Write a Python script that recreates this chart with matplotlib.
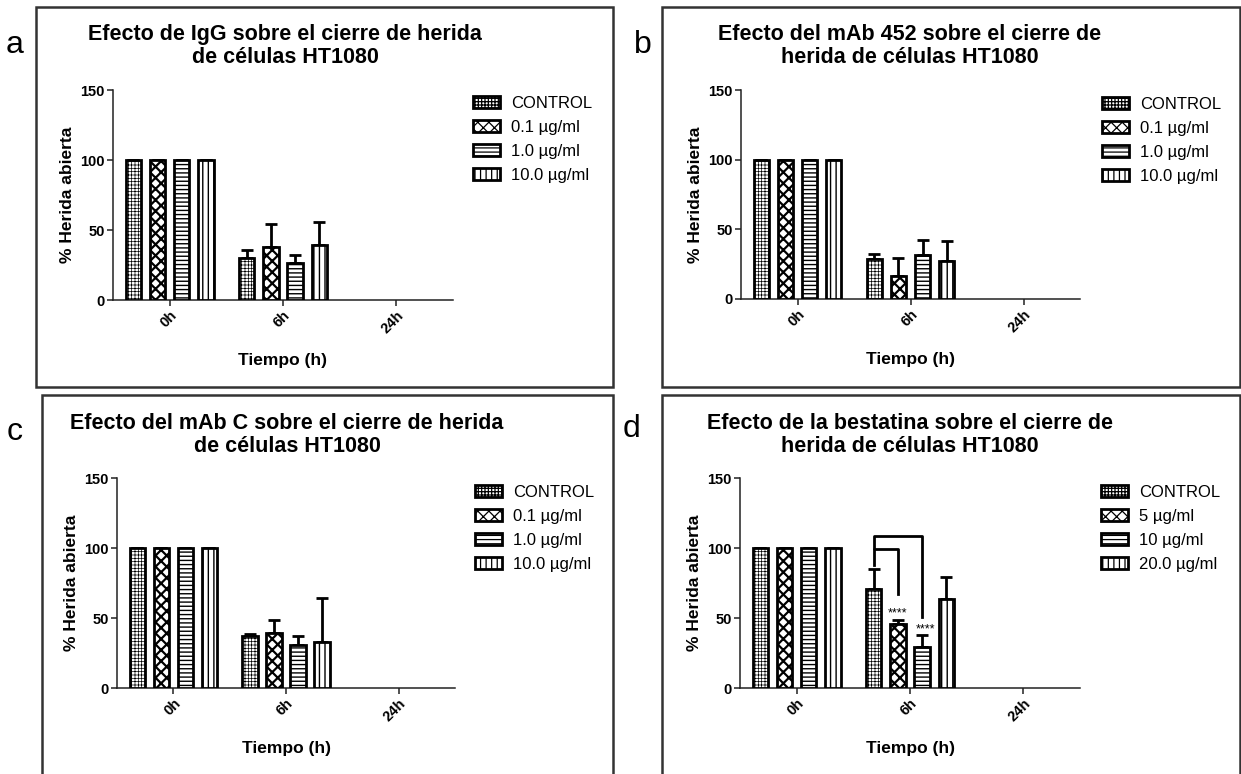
import numpy as np
import matplotlib
matplotlib.use("Agg")
import matplotlib.pyplot as plt
from matplotlib.patches import Rectangle

plt.rcParams['font.family'] = ['Liberation Sans', 'DejaVu Sans']
plt.rcParams['hatch.linewidth'] = 0.9

W, H = 1241, 774

# ---- data ----
times = ['0h', '6h', '24h']

titles = [
    'Efecto de IgG sobre el cierre de herida\nde células HT1080',
    'Efecto del mAb 452 sobre el cierre de\nherida de células HT1080',
    'Efecto del mAb C sobre el cierre de herida\nde células HT1080',
    'Efecto de la bestatina sobre el cierre de\nherida de células HT1080',
]
panel_letters = ['a', 'b', 'c', 'd']

labels_mab = ['CONTROL', '0.1 µg/ml', '1.0 µg/ml', '10.0 µg/ml']
labels_bestatin = ['CONTROL', '5 µg/ml', '10 µg/ml', '20.0 µg/ml']

# mean % open wound per series, at 0h / 6h / 24h (no bars at 24h)
igg_mean = [[100, 29.9, np.nan], [100, 38.2, np.nan], [100, 26.3, np.nan], [100, 39.4, np.nan]]
igg_err = [[0, 5.9, np.nan], [0, 16.3, np.nan], [0, 6.2, np.nan], [0, 16.5, np.nan]]

mab452_mean = [[100, 28.7, np.nan], [100, 16.2, np.nan], [100, 31.8, np.nan], [100, 27.0, np.nan]]
mab452_err = [[0, 3.8, np.nan], [0, 13.2, np.nan], [0, 10.2, np.nan], [0, 14.3, np.nan]]

mabc_mean = [[100, 37.3, np.nan], [100, 39.2, np.nan], [100, 30.6, np.nan], [100, 33.2, np.nan]]
mabc_err = [[0, 1.6, np.nan], [0, 9.2, np.nan], [0, 6.9, np.nan], [0, 30.9, np.nan]]

bestatin_mean = [[100, 70.7, np.nan], [100, 45.6, np.nan], [100, 29.4, np.nan], [100, 63.8, np.nan]]
bestatin_err = [[0, 14.0, np.nan], [0, 3.1, np.nan], [0, 8.6, np.nan], [0, 15.5, np.nan]]

# significance vs CONTROL at 6h (panel d)
sig_series = [1, 2]
sig_top = [99, 108.5]
sig_left_bottom = [88, 100]
sig_right_bottom = [67, 51]
sig_text = ['****', '****']
sig_text_y = [53.5, 41.5]

# ---- layout (pixels) ----
axes_px = [(113, 453, 90, 300), (741, 1080, 90, 299), (117, 455, 478, 688), (740, 1080, 478, 688)]
boxes_px = [(36, 613, 7, 387), (662, 1240, 7, 387), (42, 613, 395, 790), (662, 1240, 395, 790)]
legend_px = [(473, 96), (1102, 97), (475, 485), (1101, 485)]
title_px = [(285, 46), (910, 46), (287, 435), (910, 435)]
letter_px = [(15, 53), (643, 53), (15, 440), (632, 437)]

hatches = ['+++++', 'xxx', '----', '|||']
hatch_lw = [0.5, 1.6, 1.0, 1.0]
step = 0.2135
width = 0.135


def px_rect(l, r, t, b):
    return [l / W, 1 - b / H, (r - l) / W, (b - t) / H]


def draw_panel(fig, k, labels, means, errs):
    ax = fig.add_axes(px_rect(*axes_px[k]))
    x = np.arange(len(times))
    for i in range(4):
        xi = x + (i - 1.5) * step
        m = np.array(means[i], dtype=float)
        e = np.array(errs[i], dtype=float)
        b = ax.bar(xi, m, width, color='white', edgecolor='black', linewidth=2.0,
                   hatch=hatches[i], label=labels[i], zorder=3)
        for p in b.patches:
            if hasattr(p, 'set_hatch_linewidth'):
                p.set_hatch_linewidth(hatch_lw[i])
        ax.errorbar(xi, m, yerr=[np.zeros_like(e), e], fmt='none', ecolor='black',
                    elinewidth=2.0, capsize=4.5, capthick=2.0, zorder=2)

    ax.set_xlim(-0.5, 2.5)
    ax.set_ylim(0, 150)
    ax.set_yticks([0, 50, 100, 150])
    ax.set_xticks(x)
    ax.set_xticklabels(times, rotation=45, ha='right', va='top', rotation_mode='anchor')
    for s in ['top', 'right']:
        ax.spines[s].set_visible(False)
    for s in ['left', 'bottom']:
        ax.spines[s].set_linewidth(1.1)
        ax.spines[s].set_color('#222222')
    ax.tick_params(axis='both', length=4, width=1.1, labelsize=10.5, color='#222222', pad=2)
    for t in ax.get_xticklabels() + ax.get_yticklabels():
        t.set_fontweight('bold')
    ax.set_ylabel('% Herida abierta', fontsize=12.5, fontweight='bold')
    ax.yaxis.set_label_coords(-38 / (axes_px[k][1] - axes_px[k][0]), 0.5)
    ax.set_xlabel('Tiempo (h)', fontsize=12.5, fontweight='bold')
    ax.xaxis.set_label_coords(0.5, -53 / (axes_px[k][3] - axes_px[k][2]))

    lx, ly = legend_px[k]
    ax.legend(loc='upper left', bbox_to_anchor=(lx / W, 1 - ly / H), bbox_transform=fig.transFigure,
              frameon=False, fontsize=12, handlelength=1.6, handleheight=0.7,
              labelspacing=0.54, handletextpad=0.7, borderpad=0, borderaxespad=0)

    tx, ty = title_px[k]
    fig.text(tx / W, 1 - ty / H, titles[k], ha='center', va='center', fontsize=15.5,
             fontweight='bold', linespacing=1.15)
    gx, gy = letter_px[k]
    fig.text(gx / W, 1 - gy / H, panel_letters[k], ha='center', va='baseline', fontsize=23)
    l, r, t, b = boxes_px[k]
    fig.add_artist(Rectangle((l / W, 1 - b / H), (r - l) / W, (b - t) / H, transform=fig.transFigure,
                             fill=False, linewidth=1.8, edgecolor='#333333'))
    return ax


fig = plt.figure(figsize=(W / 100, H / 100), dpi=100)

draw_panel(fig, 0, labels_mab, igg_mean, igg_err)
draw_panel(fig, 1, labels_mab, mab452_mean, mab452_err)
draw_panel(fig, 2, labels_mab, mabc_mean, mabc_err)
ax_d = draw_panel(fig, 3, labels_bestatin, bestatin_mean, bestatin_err)

# significance brackets at 6h
x_ctrl = 1 + (0 - 1.5) * step
for j, s in enumerate(sig_series):
    x_s = 1 + (s - 1.5) * step
    ax_d.plot([x_ctrl, x_ctrl, x_s, x_s],
              [sig_left_bottom[j], sig_top[j], sig_top[j], sig_right_bottom[j]],
              color='black', linewidth=2.0, clip_on=False, zorder=4)
    ax_d.text(x_s + 0.03 * j, sig_text_y[j], sig_text[j], ha='center', va='center', fontsize=9, zorder=5)

fig.savefig('out.png', dpi=100)
